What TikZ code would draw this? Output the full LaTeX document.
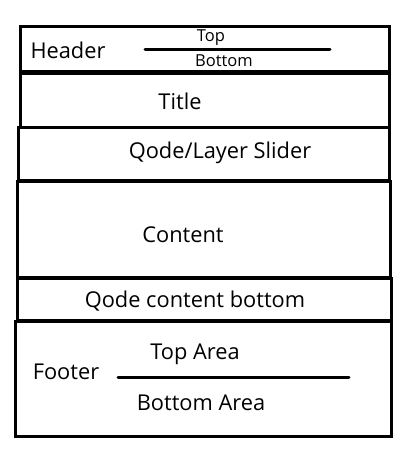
\documentclass[tikz,border=0pt]{standalone}
\usepackage{fontspec}
\setmainfont{Open Sans}
\usetikzlibrary{positioning}

\begin{document}
\begin{tikzpicture}[x=1pt,y=-1pt,
    box/.style={line width=3pt},
    rule/.style={line width=3pt,line cap=round},
    lbl/.style={font=\fontsize{21.8}{24}\selectfont,inner sep=0pt},
    small/.style={font=\fontsize{16.5}{18}\selectfont,inner sep=0pt}]
        \useasboundingbox (0,0) rectangle (414,450);
        \draw[box](20,26.5) rectangle (389.5,71.5);
        \draw[box](20,73) rectangle (389.5,127);
        \draw[box](18.3,127.5) rectangle (389.5,180.5);
        \draw[box](17.3,181) rectangle (390,277.5);
        \draw[box](17.3,278.5) rectangle (391.5,320);
        \draw[box](15.7,321) rectangle (391.7,436.5);
        \node[lbl] (header) at (68,50){Header};
        \node[small] (top) at (211,38){Top};
        \node[small] (bottom) at (224,61){Bottom};
        \coordinate (hl) at (145,49);
        \coordinate (hr) at (330,49);
        \draw[rule](hl) -- (hr);
        \node[lbl] (title) at (180,101){Title};
        \node[lbl] (slider) at (220,153){Qode/Layer Slider};
        \node[lbl] (content) at (183,235){Content};
        \node[lbl] (qcb) at (195,301){Qode content bottom};
        \node[lbl] (footer) at (66,372){Footer};
        \node[lbl] (toparea) at (195,354){Top Area};
        \node[lbl] (botarea) at (201,403){Bottom Area};
        \coordinate (fl) at (118,377);
        \coordinate (fr) at (349,377);
        \draw[rule](fl) -- (fr);
    \end{tikzpicture}
\end{document}
